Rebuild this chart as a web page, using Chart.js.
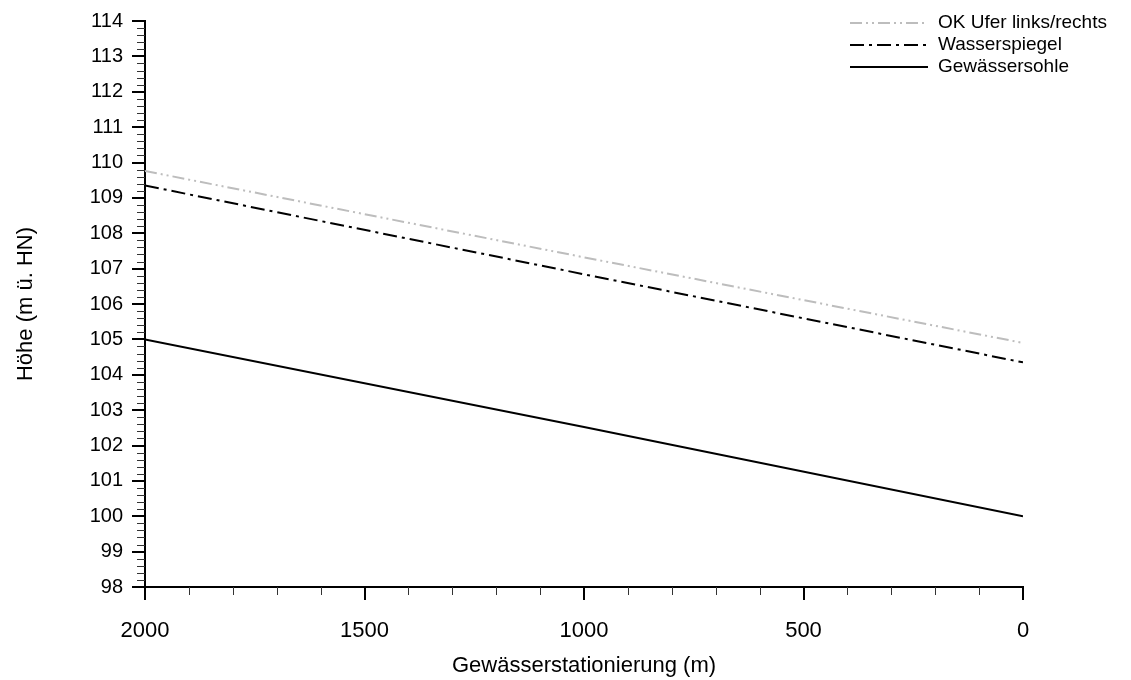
<!DOCTYPE html>
<html>
<head>
<meta charset="utf-8">
<script src="https://cdn.jsdelivr.net/npm/chart.js@4"></script>
<style>
  html, body { margin: 0; padding: 0; background: #fff; }
  #wrap { width: 1131px; height: 680px; }
</style>
</head>
<body>
<div id="wrap"><canvas id="profil" width="1131" height="680"></canvas></div>
<script>
// Stationierung (m) und Höhen (m ü. HN)
const stationen = [2000, 1000, 0];
const okUfer = [109.76, 107.32, 104.9];
const wasserspiegel = [109.35, 106.84, 104.35];
const sohle = [105.0, 102.52, 100.0];
const xTicks = [0, 500, 1000, 1500, 2000];

const yMin = 98, yMax = 114;
const xMin = 0, xMax = 2000;

const FONT = "'Liberation Sans', Arial, Helvetica, sans-serif";

function punkte(werte) {
  return stationen.map((s, i) => ({ x: s, y: werte[i] }));
}

// kleine Zwischenstriche an den Achsen + Legende oben rechts
const extras = {
  id: "extras",
  afterDraw(chart) {
    const ctx = chart.ctx;
    const xs = chart.scales.x;
    const ys = chart.scales.y;
    const area = chart.chartArea;
    ctx.save();
    ctx.strokeStyle = "#333";
    ctx.lineWidth = 1;
    for (let k = yMin * 5; k <= yMax * 5; k++) {
      if (k % 5 === 0) continue;
      const py = Math.round(ys.getPixelForValue(k / 5)) + 0.5;
      ctx.beginPath();
      ctx.moveTo(area.left - 8, py);
      ctx.lineTo(area.left, py);
      ctx.stroke();
    }
    for (let v = xMin; v <= xMax; v += 100) {
      if (v % 500 === 0) continue;
      const px = Math.round(xs.getPixelForValue(v)) + 0.5;
      ctx.beginPath();
      ctx.moveTo(px, area.bottom);
      ctx.lineTo(px, area.bottom + 8);
      ctx.stroke();
    }

    // Legende
    ctx.font = "19px " + FONT;
    ctx.textBaseline = "middle";
    ctx.textAlign = "left";
    chart.data.datasets.forEach((ds, i) => {
      const y = 23 + i * 22;
      ctx.strokeStyle = ds.borderColor;
      ctx.lineWidth = ds.borderWidth;
      ctx.setLineDash(ds.borderDash || []);
      ctx.beginPath();
      ctx.moveTo(850, y);
      ctx.lineTo(928, y);
      ctx.stroke();
      ctx.setLineDash([]);
      ctx.fillStyle = "#000";
      ctx.fillText(ds.label, 938, y);
    });
    ctx.restore();
  }
};

const config = {
  type: "line",
  data: {
    datasets: [
      {
        label: "OK Ufer links/rechts",
        data: punkte(okUfer),
        borderColor: "#bdbdbd",
        borderWidth: 2,
        borderDash: [12, 4, 2, 4, 2, 4],
        pointRadius: 0,
        tension: 0
      },
      {
        label: "Wasserspiegel",
        data: punkte(wasserspiegel),
        borderColor: "#000",
        borderWidth: 2,
        borderDash: [14, 5, 3, 5],
        pointRadius: 0,
        tension: 0
      },
      {
        label: "Gewässersohle",
        data: punkte(sohle),
        borderColor: "#000",
        borderWidth: 2,
        pointRadius: 0,
        tension: 0
      }
    ]
  },
  options: {
    responsive: false,
    animation: false,
    devicePixelRatio: 1,
    layout: { padding: { left: 0, right: 108, top: 20, bottom: 0 } },
    plugins: {
      legend: { display: false },
      tooltip: { enabled: false }
    },
    scales: {
      x: {
        type: "linear",
        reverse: true,
        min: xMin,
        max: xMax,
        afterFit(scale) { scale.height = 93; },
        afterBuildTicks(scale) {
          scale.ticks = xTicks.map((v) => ({ value: v }));
        },
        grid: {
          display: true,
          drawOnChartArea: false,
          drawTicks: true,
          tickLength: 13,
          color: "#000",
          lineWidth: 2
        },
        border: { display: true, color: "#000", width: 2 },
        ticks: {
          color: "#000",
          padding: 18,
          maxRotation: 0,
          font: { family: FONT, size: 22 },
          callback: (v) => String(v)
        },
        title: {
          display: true,
          text: "Gewässerstationierung (m)",
          color: "#000",
          font: { family: FONT, size: 22 },
          padding: { top: 0, bottom: 1 }
        }
      },
      y: {
        min: yMin,
        max: yMax,
        afterFit(scale) { scale.width = 145; },
        grid: {
          display: true,
          drawOnChartArea: false,
          drawTicks: true,
          tickLength: 13,
          color: "#000",
          lineWidth: 2
        },
        border: { display: true, color: "#000", width: 2 },
        ticks: {
          stepSize: 1,
          color: "#000",
          padding: 9,
          font: { family: FONT, size: 20 },
          callback: (v) => String(v)
        },
        title: {
          display: true,
          text: "Höhe (m ü. HN)",
          color: "#000",
          font: { family: FONT, size: 22 },
          padding: { top: 13, bottom: 0 }
        }
      }
    }
  },
  plugins: [extras]
};

new Chart(document.getElementById("profil"), config);
</script>
</body>
</html>
